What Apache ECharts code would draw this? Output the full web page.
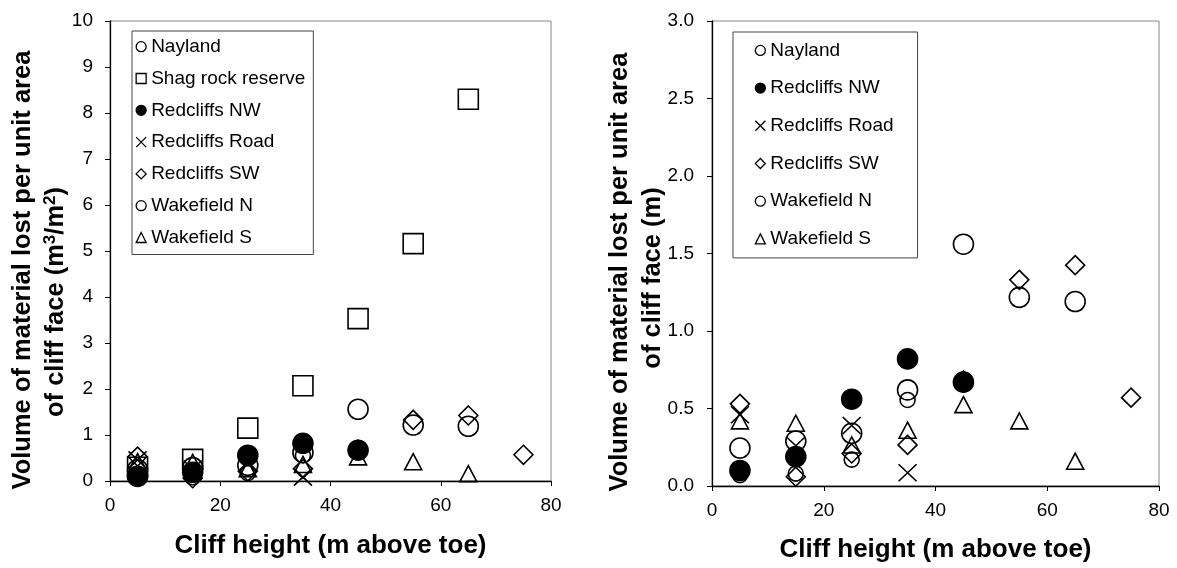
<!DOCTYPE html>
<html>
<head>
<meta charset="utf-8">
<script src="https://cdn.jsdelivr.net/npm/echarts@6/dist/echarts.min.js"></script>
<style>
html,body{margin:0;padding:0;background:#fff;}
#chart{width:1177px;height:568px;}
</style>
</head>
<body>
<div id="chart"></div>
<script>
// Cliff heights (m above toe) at which samples were taken
const heights = [5, 15, 25, 35, 45, 55, 65, 75];
// Volume lost per unit area (m3/m2 == m)
const nayland       = [0.07, 0.08, 0.17, 0.555];
const shagRock      = [0.30, 0.47, 1.15, 2.07, 3.53, 5.16, 8.30];
const redcliffsNW   = [0.10, 0.19, 0.56, 0.82, 0.67];
const redcliffsRoad = [0.46, 0.26, 0.39, 0.085];
const redcliffsSW   = [0.53, 0.06, 0.21, 0.265, 0.68, 1.33, 1.425, 0.57];
const wakefieldN    = [0.245, 0.29, 0.34, 0.62, 1.56, 1.217, 1.19];
const wakefieldS    = [0.42, 0.405, 0.265, 0.36, 0.525, 0.42, 0.16];

const xTicks = [0, 20, 40, 60, 80];
const leftYTicks = [0, 1, 2, 3, 4, 5, 6, 7, 8, 9, 10];
const rightYTicks = [0.0, 0.5, 1.0, 1.5, 2.0, 2.5, 3.0];

const leftNames = ['Nayland', 'Shag rock reserve', 'Redcliffs NW', 'Redcliffs Road', 'Redcliffs SW', 'Wakefield N', 'Wakefield S'];
const rightNames = ['Nayland', 'Redcliffs NW', 'Redcliffs Road', 'Redcliffs SW', 'Wakefield N', 'Wakefield S'];

const FONT = '"Liberation Sans", Arial, sans-serif';
const pairs = vals => vals.map((v, i) => [heights[i], v]);

const styles = {
  'Nayland':           {symbol: 'circle', size: 15, fill: 'transparent'},
  'Shag rock reserve': {symbol: 'rect', size: 20, fill: 'transparent'},
  'Redcliffs NW':      {symbol: 'circle', size: 20, fill: '#000'},
  'Redcliffs Road':    {symbol: 'path://M0,0L10,10M0,10L10,0', size: [18, 17], fill: 'transparent'},
  'Redcliffs SW':      {symbol: 'diamond', size: [19, 19], fill: 'transparent'},
  'Wakefield N':       {symbol: 'circle', size: 20, fill: 'transparent'},
  'Wakefield S':       {symbol: 'triangle', size: [17, 16], fill: 'transparent'}
};
const values = {
  'Nayland': nayland, 'Shag rock reserve': shagRock, 'Redcliffs NW': redcliffsNW,
  'Redcliffs Road': redcliffsRoad, 'Redcliffs SW': redcliffsSW,
  'Wakefield N': wakefieldN, 'Wakefield S': wakefieldS
};

function makeSeries(name, idx) {
  const s = styles[name];
  return {
    type: 'scatter', name: name,
    xAxisIndex: idx, yAxisIndex: idx,
    data: pairs(values[name]),
    symbol: s.symbol, symbolSize: s.size,
    itemStyle: {color: s.fill, borderColor: '#000', borderWidth: 1.6, opacity: 1},
    emphasis: {disabled: true},
    silent: true
  };
}

const series = leftNames.map(n => makeSeries(n, 0)).concat(rightNames.map(n => makeSeries(n, 1)));

function xAxis(idx, gap) {
  return {
    type: 'value', gridIndex: idx, min: 0, max: 80, interval: 20,
    name: 'Cliff height (m above toe)', nameLocation: 'middle', nameGap: gap,
    nameTextStyle: {fontFamily: FONT, fontSize: 26, fontWeight: 'bold', color: '#000'},
    axisLine: {show: true, onZero: false, lineStyle: {color: '#000', width: 1.3}},
    axisTick: {show: true, inside: false, length: 5, lineStyle: {color: '#000'}},
    axisLabel: {fontFamily: FONT, fontSize: 19, color: '#000', margin: 15,
      formatter: v => xTicks.includes(v) ? String(v) : ''},
    splitLine: {show: false}
  };
}

const titleFont = 'bold 25.5px ' + FONT;
const supRich = {
  a: {font: titleFont, fill: '#000', lineHeight: 30},
  s: {font: 'bold 17px ' + FONT, fill: '#000', lineHeight: 30, verticalAlign: 'top', padding: [1, 0, 0, 0]}
};

const option = {
  animation: false,
  backgroundColor: '#fff',
  grid: [
    {left: 110, top: 21, width: 441, height: 460, show: true, borderColor: '#888', borderWidth: 1, containLabel: false},
    {left: 712, top: 21, width: 447, height: 468, show: true, borderColor: '#888', borderWidth: 1, containLabel: false}
  ],
  xAxis: [xAxis(0, 52), xAxis(1, 51)],
  yAxis: [
    {type: 'value', gridIndex: 0, min: 0, max: 10, interval: 1,
     axisLine: {show: true, onZero: false, lineStyle: {color: '#000', width: 1.3}},
     axisTick: {show: true, length: 5, lineStyle: {color: '#000'}},
     axisLabel: {fontFamily: FONT, fontSize: 19, color: '#000', margin: 17,
       formatter: v => leftYTicks.includes(v) ? String(v) : ''},
     splitLine: {show: false}},
    {type: 'value', gridIndex: 1, min: 0, max: 3, interval: 0.5,
     axisLine: {show: true, onZero: false, lineStyle: {color: '#000', width: 1.3}},
     axisTick: {show: true, length: 5, lineStyle: {color: '#000'}},
     axisLabel: {fontFamily: FONT, fontSize: 19, color: '#000', margin: 18,
       formatter: v => rightYTicks.includes(v) ? v.toFixed(1) : ''},
     splitLine: {show: false}}
  ],
  legend: [
    {data: leftNames, orient: 'vertical', left: 132, top: 31,
     padding: [5.7, 8, 7, 3.5], itemGap: 11.8, itemWidth: 10, itemHeight: 10,
     borderColor: '#444', borderWidth: 1, backgroundColor: '#fff',
     selectedMode: false, itemStyle: {borderWidth: 1.3},
     textStyle: {fontFamily: FONT, fontSize: 19, color: '#000', lineHeight: 20}},
    {data: rightNames, orient: 'vertical', left: 733, top: 32,
     padding: [8.4, 24, 9, 21.7], itemGap: 17.7, itemWidth: 10, itemHeight: 10,
     borderColor: '#444', borderWidth: 1, backgroundColor: '#fff',
     selectedMode: false, itemStyle: {borderWidth: 1.3},
     textStyle: {fontFamily: FONT, fontSize: 19, color: '#000', lineHeight: 20}}
  ],
  graphic: [
    {type: 'text', x: 22.5, y: 270, rotation: Math.PI / 2, silent: true,
     style: {text: 'Volume of material lost per unit area', font: titleFont, fill: '#000', textAlign: 'center', textVerticalAlign: 'middle'}},
    {type: 'text', x: 56, y: 302, rotation: Math.PI / 2, silent: true,
     style: {text: '{a|of cliff face (m}{s|3}{a|/m}{s|2}{a|)}', rich: supRich, textAlign: 'center', textVerticalAlign: 'middle'}},
    {type: 'text', x: 620, y: 272, rotation: Math.PI / 2, silent: true,
     style: {text: 'Volume of material lost per unit area', font: titleFont, fill: '#000', textAlign: 'center', textVerticalAlign: 'middle'}},
    {type: 'text', x: 653, y: 278, rotation: Math.PI / 2, silent: true,
     style: {text: 'of cliff face (m)', font: titleFont, fill: '#000', textAlign: 'center', textVerticalAlign: 'middle'}}
  ],
  series: series
};

const chart = echarts.init(document.getElementById('chart'), null, {renderer: 'canvas'});
chart.setOption(option);
</script>
</body>
</html>
